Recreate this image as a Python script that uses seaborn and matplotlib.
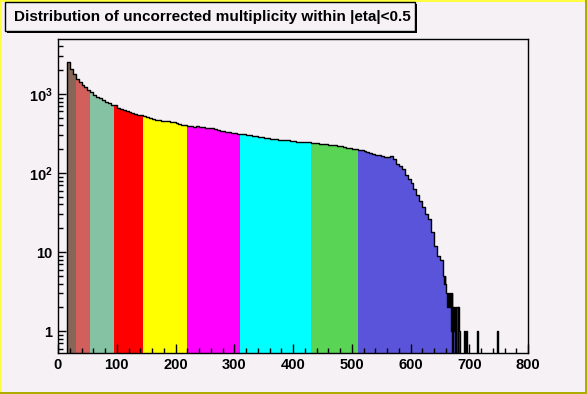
import numpy as np
import pandas as pd
import matplotlib
matplotlib.use("Agg")
import matplotlib.pyplot as plt
import seaborn as sns
from matplotlib.patches import Rectangle
from matplotlib.ticker import FixedLocator, MultipleLocator, NullFormatter, LogLocator

# multiplicity histogram, bins of width 5 starting at 15 (displayed bin heights)
main_start = 15
main_width = 5
main_counts = [
    2500, 2050, 1800, 1560, 1400, 1300, 1220, 1120, 1050, 980,
    925, 880, 830, 800, 770, 735, 715, 670, 640, 625,
    610, 598, 580, 565, 548, 535, 525, 505, 492, 483,
    470, 468, 460, 452, 455, 446, 440, 432, 418, 410,
    405, 398, 392, 386, 388, 380, 378, 376, 372, 366,
    360, 348, 342, 336, 332, 327, 322, 318, 314, 312,
    310, 306, 302, 297, 292, 288, 284, 280, 276, 273,
    270, 268, 265, 262, 262, 258, 255, 252, 249, 248,
    247, 245, 244, 243, 240, 237, 235, 233, 230, 228,
    225, 223, 220, 217, 214, 210, 206, 203, 199, 197,
    194, 190, 186, 180, 175, 170, 167, 163, 161, 160,
    165, 150, 130, 122, 112, 94, 85, 74, 62, 52,
    44, 37, 30, 26, 18, 12, 9, 8,
]

# sparse tail, bins of width 1
tail_start = 655
tail_end = 800
tail_mult = [655, 656, 657, 658, 659, 660, 661, 662, 663, 664, 665, 666, 667, 668,
             669, 670, 672, 673, 674, 675, 677, 678, 679, 681, 682, 683, 684,
             691, 692, 694, 695, 713, 714, 748]
tail_counts = [6, 5, 4, 5, 4, 3, 3, 2, 3, 3, 3, 2, 2, 3,
               1, 3, 2, 1, 2, 1, 1, 2, 2, 2, 1, 1, 1,
               1, 1, 1, 1, 1, 1, 1]

# centrality classes: multiplicity boundaries and fill colours
class_edges = [15, 30, 55, 95, 145, 220, 310, 430, 510, 800]
class_colors = ["#876657", "#d35f5c", "#85c2a3", "#ff0000", "#ffff00",
                "#ff00ff", "#00ffff", "#59d454", "#5954d9"]

title = "Distribution of uncorrected multiplicity within |eta|<0.5"
bg = "#f5f1f5"

plt.rcParams["font.family"] = ["Liberation Sans", "DejaVu Sans"]
plt.rcParams["mathtext.fontset"] = "custom"
plt.rcParams["mathtext.rm"] = "Liberation Sans:bold"
plt.rcParams["mathtext.it"] = "Liberation Sans:bold"
plt.rcParams["mathtext.bf"] = "Liberation Sans:bold"

# build the histogram table
edges_main = main_start + main_width * np.arange(len(main_counts) + 1)
edges_tail = np.arange(tail_start, tail_end + 1)
tail_vals = np.zeros(len(edges_tail) - 1)
tail_vals[np.array(tail_mult) - tail_start] = tail_counts
edges = np.concatenate([[0], edges_main[:-1], edges_tail]).astype(float)
counts = np.concatenate([[0], main_counts, tail_vals]).astype(float)
df = pd.DataFrame({
    "lo": edges[:-1],
    "hi": edges[1:],
    "count": counts,
})
df["mult"] = (df["lo"] + df["hi"]) / 2

W, H = 587, 394
fig = plt.figure(figsize=(W / 100, H / 100), dpi=100, facecolor=bg)
ax = fig.add_axes([58 / W, 1 - 353 / H, 470 / W, 314 / H])
ax.set_facecolor(bg)
ax.set_yscale("log")

for lo, hi, col in zip(class_edges[:-1], class_edges[1:], class_colors):
    sub = df[(df["lo"] >= lo) & (df["hi"] <= hi)]
    bins = [float(e) for e in edges if lo <= e <= hi]
    sns.histplot(data=sub, x="mult", weights="count", bins=bins, element="step",
                 fill=True, alpha=1, linewidth=0, color=col, ax=ax)

sns.histplot(data=df, x="mult", weights="count", bins=[float(e) for e in edges],
             element="step", fill=False, color="black", linewidth=1.0, ax=ax)

ax.set_xlim(0, 800)
ax.set_ylim(0.53, 4950)
ax.set_xlabel("")
ax.set_ylabel("")

ax.xaxis.set_major_locator(MultipleLocator(100))
ax.xaxis.set_minor_locator(MultipleLocator(20))
ax.yaxis.set_major_locator(FixedLocator([1, 10, 100, 1000]))
ax.yaxis.set_minor_locator(LogLocator(base=10, subs=np.arange(2, 10)))
ax.yaxis.set_minor_formatter(NullFormatter())
ax.set_yticklabels(["1", "10", r"$10^{2}$", r"$10^{3}$"])
ax.tick_params(axis="both", which="both", direction="in", top=False, right=False,
               width=1, colors="black")
ax.tick_params(axis="x", which="major", length=6.5, pad=3.5, labelsize=10.5)
ax.tick_params(axis="x", which="minor", length=3.5)
ax.tick_params(axis="y", which="major", length=5.8, pad=4, labelsize=10.5)
ax.tick_params(axis="y", which="minor", length=3.6)
for lab in ax.get_xticklabels() + ax.get_yticklabels():
    lab.set_fontweight("bold")
for s in ax.spines.values():
    s.set_linewidth(1)
    s.set_color("black")


def px(x0, y0, w, h):
    return (x0 / W, 1 - (y0 + h) / H, w / W, h / H)


def box(x0, y0, w, h, **kw):
    x, y, ww, hh = px(x0, y0, w, h)
    fig.add_artist(Rectangle((x, y), ww, hh, transform=fig.transFigure, **kw))


# canvas border
box(0, 0, W, 2, facecolor="#ffff40", edgecolor="none")
box(0, 0, 2, H, facecolor="#ffff40", edgecolor="none")
box(0, H - 2, W, 2, facecolor="#adad00", edgecolor="none")
box(W - 2, 0, 2, H, facecolor="#adad00", edgecolor="none")

# title box with shadow
box(7, 4, 410, 29, facecolor="black", edgecolor="none")
box(5, 2, 410, 29, facecolor=bg, edgecolor="black", linewidth=1)
fig.text(212 / W, 1 - 17 / H, title, ha="center", va="center",
         fontsize=11, fontweight="bold", color="black")

fig.savefig("out.png", dpi=100, facecolor=bg)
